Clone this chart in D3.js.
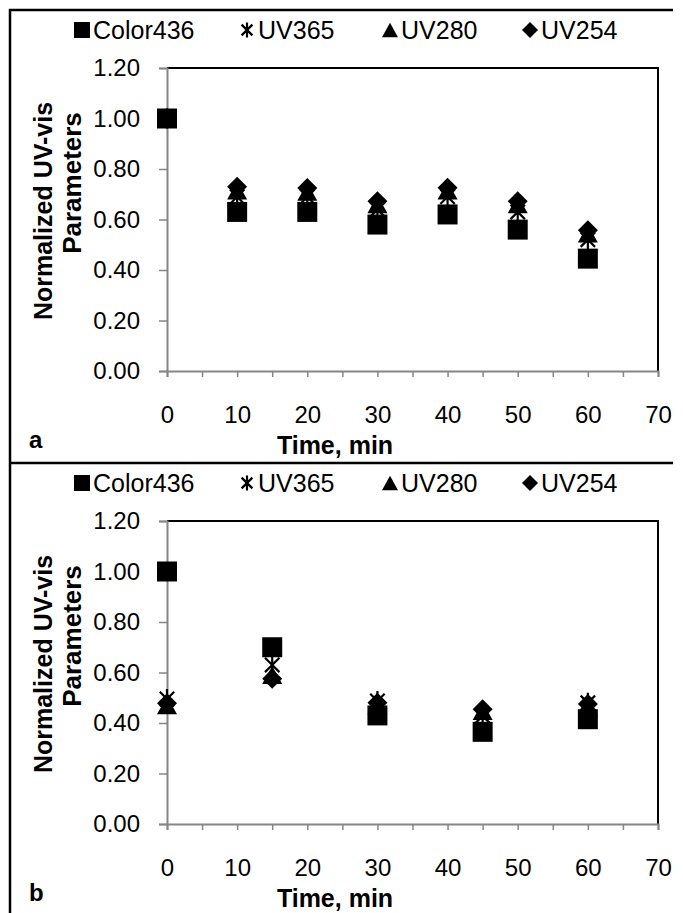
<!DOCTYPE html>
<html>
<head>
<meta charset="utf-8">
<script src="https://cdn.jsdelivr.net/npm/d3@7"></script>
<style>
  body { margin: 0; background: #fff; }
  svg { display: block; font-family: "Liberation Sans", Arial, sans-serif; }
</style>
</head>
<body>
<div id="chart"></div>
<script>
// Data
var seriesNames = ["Color436", "UV365", "UV280", "UV254"];
var seriesShapes = ["square", "asterisk", "triangle", "diamond"];

// panel a
var timeA = [0, 10, 20, 30, 40, 50, 60];
var color436A = [1.00, 0.63, 0.63, 0.58, 0.62, 0.56, 0.445];
var uv365A = [1.00, 0.69, 0.69, 0.64, 0.69, 0.63, 0.52];
var uv280A = [1.00, 0.715, 0.71, 0.66, 0.715, 0.66, 0.545];
var uv254A = [1.00, 0.73, 0.725, 0.672, 0.726, 0.672, 0.557];

// panel b
var timeB = [0, 15, 30, 45, 60];
var color436B = [1.00, 0.70, 0.43, 0.365, 0.415];
var uv365B = [0.495, 0.63, 0.487, 0.428, 0.48];
var uv280B = [0.47, 0.59, 0.47, 0.448, 0.46];
var uv254B = [0.478, 0.575, 0.48, 0.454, 0.475];

var xTicks = [0, 5, 10, 15, 20, 25, 30, 35, 40, 45, 50, 55, 60, 65, 70];
var yTicks = [0, 0.2, 0.4, 0.6, 0.8, 1.0, 1.2];

var panels = [
  { label: "a", time: timeA, values: [color436A, uv365A, uv280A, uv254A] },
  { label: "b", time: timeB, values: [color436B, uv365B, uv280B, uv254B] }
];

// Step 1: svg canvas
var svgWidth = 683;
var svgHeight = 913;
var panelHeight = 453;

var svg = d3.select("#chart")
  .append("svg")
  .attr("width", svgWidth)
  .attr("height", svgHeight);

// outer frame lines
svg.append("line").attr("x1", 10).attr("x2", 10).attr("y1", 9).attr("y2", svgHeight)
  .attr("stroke", "#000").attr("stroke-width", 2.5);
svg.append("line").attr("x1", 9).attr("x2", 673).attr("y1", 10).attr("y2", 10)
  .attr("stroke", "#000").attr("stroke-width", 2.5);
svg.append("line").attr("x1", 9).attr("x2", 673).attr("y1", 10 + panelHeight).attr("y2", 10 + panelHeight)
  .attr("stroke", "#000").attr("stroke-width", 2.5);

// marker shapes, r is half size
function markerPath(shape, r) {
  var p = d3.path();
  if (shape === "square") {
    p.rect(-r, -r, 2 * r, 2 * r);
  } else if (shape === "diamond") {
    p.moveTo(0, -r); p.lineTo(r, 0); p.lineTo(0, r); p.lineTo(-r, 0); p.closePath();
  } else if (shape === "triangle") {
    p.moveTo(0, -r * 0.9); p.lineTo(r, r * 0.9); p.lineTo(-r, r * 0.9); p.closePath();
  } else {
    var k = r * 0.72;
    p.moveTo(-k, -k); p.lineTo(k, k);
    p.moveTo(-k, k); p.lineTo(k, -k);
    p.moveTo(0, -r); p.lineTo(0, r);
  }
  return p.toString();
}

function addMarker(g, shape, r, x, y) {
  var m = g.append("path")
    .attr("d", markerPath(shape, r))
    .attr("transform", "translate(" + x + "," + y + ")");
  if (shape === "asterisk") {
    m.attr("fill", "none").attr("stroke", "#000").attr("stroke-width", 2.2);
  } else {
    m.attr("fill", "#000");
  }
}

// Step 2: draw each panel
panels.forEach(function(panel, i) {
  var top = 10 + i * panelHeight;
  var g = svg.append("g").attr("transform", "translate(0," + top + ")");

  var plotTop = 58;
  var plotBottom = 361;
  var plotLeft = 167;
  var plotRight = 658;

  var xScale = d3.scaleLinear().domain([0, 70]).range([plotLeft, plotRight]);
  var yScale = d3.scaleLinear().domain([0, 1.2]).range([plotBottom, plotTop]);

  // legend
  var legendX = [82, 247, 390, 530];
  seriesNames.forEach(function(name, j) {
    addMarker(g, seriesShapes[j], seriesShapes[j] === "asterisk" ? 7.5 : 8, legendX[j], 20);
    g.append("text")
      .attr("x", legendX[j] + 11)
      .attr("y", 28.5)
      .attr("font-size", 25)
      .attr("fill", "#000")
      .text(name);
  });

  // plot area top and right border
  g.append("path")
    .attr("d", "M" + plotLeft + "," + plotTop + "H" + plotRight + "V" + plotBottom)
    .attr("fill", "none")
    .attr("stroke", "#000")
    .attr("stroke-width", 2);

  // axes
  var bottomAxis = d3.axisBottom(xScale)
    .tickValues(xTicks)
    .tickSize(6)
    .tickPadding(29)
    .tickFormat(function(d) { return d % 10 === 0 ? d : ""; });
  var leftAxis = d3.axisLeft(yScale)
    .tickValues(yTicks)
    .tickSize(8)
    .tickPadding(19)
    .tickFormat(d3.format(".2f"));

  var xg = g.append("g")
    .attr("transform", "translate(0," + plotBottom + ")")
    .call(bottomAxis);
  var yg = g.append("g")
    .attr("transform", "translate(" + plotLeft + ",0)")
    .call(leftAxis);

  [xg, yg].forEach(function(ax) {
    ax.select(".domain").attr("stroke", "#868686").attr("stroke-width", 2);
    ax.selectAll(".tick line").attr("stroke", "#868686").attr("stroke-width", 1.5);
    ax.selectAll(".tick text")
      .attr("font-size", 24)
      .attr("font-family", "Liberation Sans, Arial, sans-serif")
      .attr("fill", "#000");
  });

  // points
  seriesShapes.forEach(function(shape, j) {
    panel.values[j].forEach(function(v, k) {
      addMarker(g, shape, 10, xScale(panel.time[k]), yScale(v));
    });
  });

  // axis titles
  g.append("text")
    .attr("transform", "translate(335," + 444 + ")")
    .attr("text-anchor", "middle")
    .attr("font-size", 25)
    .attr("font-weight", "bold")
    .text("Time, min");

  g.append("text")
    .attr("transform", "translate(52,201) rotate(-90)")
    .attr("text-anchor", "middle")
    .attr("font-size", 25)
    .attr("font-weight", "bold")
    .text("Normalized UV-vis");
  g.append("text")
    .attr("transform", "translate(81,173) rotate(-90)")
    .attr("text-anchor", "middle")
    .attr("font-size", 26)
    .attr("font-weight", "bold")
    .text("Parameters");

  // panel letter
  g.append("text")
    .attr("x", 29)
    .attr("y", 438)
    .attr("font-size", 24)
    .attr("font-weight", "bold")
    .text(panel.label);
});
</script>
</body>
</html>
